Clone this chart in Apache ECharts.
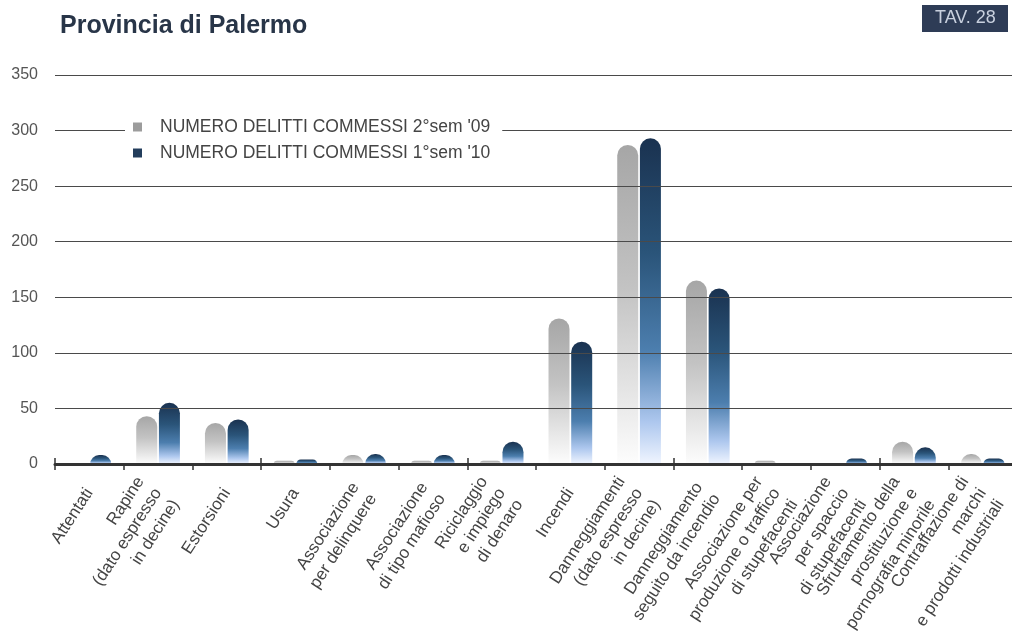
<!DOCTYPE html>
<html>
<head>
<meta charset="utf-8">
<script src="https://cdn.jsdelivr.net/npm/echarts@6/dist/echarts.min.js"></script>
<style>
html,body{margin:0;padding:0;background:#fff;}
#chart{width:1012px;height:639px;}
</style>
</head>
<body>
<div id="chart"></div>
<script>
var categories = [
  "Attentati",
  "Rapine\n(dato espresso\nin decine)",
  "Estorsioni",
  "Usura",
  "Associazione\nper delinquere",
  "Associazione\ndi tipo mafioso",
  "Riciclaggio\ne impiego\ndi denaro",
  "Incendi",
  "Danneggiamenti\n(dato espresso\nin decine)",
  "Danneggiamento\nseguito da incendio",
  "Associazione per\nproduzione o traffico\ndi stupefacenti",
  "Associazione\nper spaccio\ndi stupefacenti",
  "Sfruttamento della\nprostituzione e\npornografia minorile",
  "Contraffazione di\nmarchi\ne prodotti industriali"
];
var seriesNames = ["NUMERO DELITTI COMMESSI 2°sem '09", "NUMERO DELITTI COMMESSI 1°sem '10"];
var sem2_09 = [0, 43, 37, 3, 8, 3, 3, 131, 287, 165, 3, 0, 20, 9];
var sem1_10 = [8, 55, 40, 4, 9, 8, 20, 110, 293, 158, 0, 5, 15, 5];
var yTicks = [0, 50, 100, 150, 200, 250, 300, 350];

var FONT = "Liberation Sans";
var chart = echarts.init(document.getElementById('chart'), null, {renderer: 'canvas'});

var grayGrad = {type:'linear', x:0, y:0, x2:0, y2:1, colorStops:[
  {offset:0, color:'#a6a6a6'}, {offset:0.45, color:'#c3c3c3'},
  {offset:0.8, color:'#e8e8e8'}, {offset:1, color:'#fdfdfd'}]};
var blueGrad = {type:'linear', x:0, y:0, x2:0, y2:1, colorStops:[
  {offset:0, color:'#1a3250'}, {offset:0.35, color:'#2a5479'},
  {offset:0.65, color:'#4c7eae'}, {offset:0.87, color:'#adc7ee'}, {offset:1, color:'#f0f5ff'}]};

// multi-line labels sit a little lower (first line closer to the axis)
var axisData = categories.map(function (c) {
  var n = c.split('\n').length;
  return {value: c, textStyle: {padding: [(n - 1) * 9, 0, 0, 0]}};
});

var option = {
  backgroundColor: '#ffffff',
  animation: false,
  title: {
    text: 'Provincia di Palermo',
    left: 55, top: 9,
    textStyle: {fontFamily: FONT, fontSize: 25, fontWeight: 'bold', color: '#283548'}
  },
  graphic: [
    {type:'rect', left: 922, top: 5, shape:{width: 86, height: 27}, style:{fill:'#2e3c56'}, z: 10},
    {type:'text', left: 935, top: 9, style:{text:'TAV. 28', fill:'#c8d0de', font:'18px "Liberation Sans"'}, z: 11}
  ],
  legend: {
    orient: 'vertical',
    left: 125, top: 114,
    backgroundColor: '#ffffff',
    padding: [4, 12, 4, 8],
    itemWidth: 9, itemHeight: 9, itemGap: 8,
    icon: 'rect',
    textStyle: {fontFamily: FONT, fontSize: 17.5, color: '#444', padding: [0, 0, 0, 13]},
    data: [
      {name: seriesNames[0], itemStyle: {color: '#9c9c9c'}},
      {name: seriesNames[1], itemStyle: {color: '#233d5c'}}
    ],
    z: 6
  },
  grid: {left: 55, top: 75, width: 962, height: 389, containLabel: false, outerBoundsMode: 'none'},
  xAxis: [{
    type: 'category',
    data: axisData,
    z: 4,
    axisLine: {show: true, lineStyle: {color: '#333', width: 3}},
    axisTick: {show: true, length: 6, lineStyle: {color: '#333', width: 1.5}},
    axisLabel: {
      interval: 0, rotate: 57, margin: 26,
      fontFamily: FONT, fontSize: 17, lineHeight: 21, color: '#444'
    },
    splitLine: {show: false}
  }, {
    type: 'category',
    data: categories,
    position: 'top',
    offset: -389,
    z: 4,
    axisLine: {show: false},
    axisTick: {show: true, length: 6, lineStyle: {color: '#333', width: 1.5}},
    axisLabel: {show: false},
    splitLine: {show: false}
  }],
  yAxis: {
    type: 'value',
    min: yTicks[0], max: yTicks[yTicks.length - 1], interval: 50,
    z: 3,
    axisLine: {show: false},
    axisTick: {show: false},
    axisLabel: {fontFamily: FONT, fontSize: 16, color: '#555', margin: 17},
    splitLine: {show: true, lineStyle: {color: '#4a4a4a', width: 1.2}}
  },
  series: [
    {
      name: seriesNames[0], type: 'bar', data: sem2_09,
      barWidth: 21, barGap: '8%',
      itemStyle: {color: grayGrad, borderRadius: [10.5, 10.5, 0, 0]},
      z: 2
    },
    {
      name: seriesNames[1], type: 'bar', data: sem1_10,
      barWidth: 21, barGap: '8%',
      itemStyle: {color: blueGrad, borderRadius: [10.5, 10.5, 0, 0]},
      z: 2
    }
  ]
};
chart.setOption(option);
</script>
</body>
</html>
